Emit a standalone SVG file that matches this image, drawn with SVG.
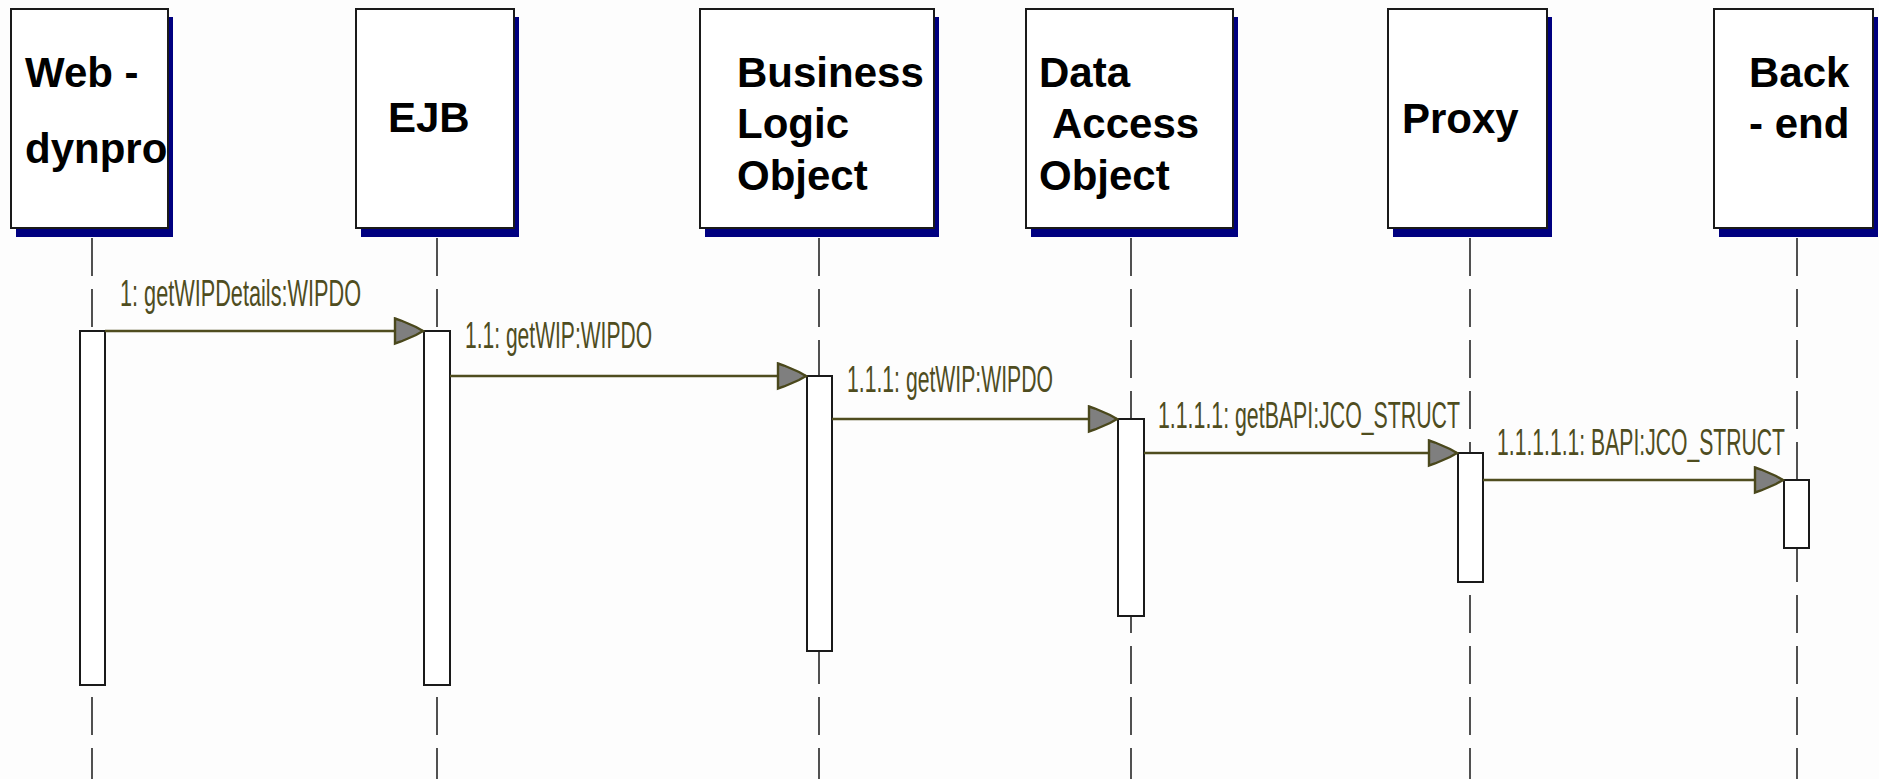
<svg xmlns="http://www.w3.org/2000/svg" width="1879" height="779" viewBox="0 0 1879 779">
<style>
.bg{fill:#fdfdfd}
.shadow{fill:#000080}
.box{fill:#ffffff;stroke:#1a1a1a;stroke-width:2}
.name{font-family:"Liberation Sans",Arial,sans-serif;font-weight:bold;font-size:42px;fill:#000000}
.life{stroke:#262626;stroke-width:1.6;stroke-dasharray:38 13;fill:none}
.act{fill:#ffffff;stroke:#1a1a1a;stroke-width:2}
.msg{stroke:#4f4d1f;stroke-width:2.6;fill:none}
.lbl{font-family:"Liberation Sans",Arial,sans-serif;font-size:37px;fill:#4f4d1f}
</style>
<defs>
<marker id="arr" markerUnits="userSpaceOnUse" markerWidth="34" markerHeight="30" refX="30" refY="14" orient="auto">
<polygon points="2,1.5 8,3.5 15,6.5 23,10 30,14 23,18 15,21.5 8,24.5 2,26.5" fill="#7f7f7f" stroke="#4a481c" stroke-width="2.4"/>
</marker>
</defs>
<rect class="bg" x="0" y="0" width="1879" height="779"/>

<g id="lifelines">
<line class="life" x1="92" y1="238" x2="92" y2="779"/>
<line class="life" x1="437" y1="238" x2="437" y2="779"/>
<line class="life" x1="819" y1="238" x2="819" y2="779"/>
<line class="life" x1="1131" y1="238" x2="1131" y2="779"/>
<line class="life" x1="1470" y1="238" x2="1470" y2="779"/>
<line class="life" x1="1797" y1="238" x2="1797" y2="779"/>
</g>

<g id="node-webdynpro">
<rect class="shadow" x="16" y="17" width="157" height="220"/>
<rect class="box" x="11" y="9" width="157" height="219"/>
<text class="name" x="25" y="87">Web -</text>
<text class="name" x="25" y="163">dynpro</text>
<rect class="act" x="80" y="331" width="25" height="354"/>
</g>

<g id="node-ejb">
<rect class="shadow" x="361" y="17" width="158" height="220"/>
<rect class="box" x="356" y="9" width="158" height="219"/>
<text class="name" x="388" y="132">EJB</text>
<rect class="act" x="424" y="331" width="26" height="354"/>
</g>

<g id="node-blo">
<rect class="shadow" x="705" y="17" width="234" height="220"/>
<rect class="box" x="700" y="9" width="234" height="219"/>
<text class="name" x="737" y="87">Business</text>
<text class="name" x="737" y="138">Logic</text>
<text class="name" x="737" y="190">Object</text>
<rect class="act" x="807" y="376" width="25" height="275"/>
</g>

<g id="node-dao">
<rect class="shadow" x="1031" y="17" width="207" height="220"/>
<rect class="box" x="1026" y="9" width="207" height="219"/>
<text class="name" x="1039" y="87">Data</text>
<text class="name" x="1052" y="138">Access</text>
<text class="name" x="1039" y="190">Object</text>
<rect class="act" x="1118" y="419" width="26" height="197"/>
</g>

<g id="node-proxy">
<rect class="shadow" x="1393" y="17" width="159" height="220"/>
<rect class="box" x="1388" y="9" width="159" height="219"/>
<text class="name" x="1402" y="133">Proxy</text>
<rect class="act" x="1458" y="453" width="25" height="129"/>
</g>

<g id="node-backend">
<rect class="shadow" x="1719" y="17" width="159" height="220"/>
<rect class="box" x="1714" y="9" width="159" height="219"/>
<text class="name" x="1749" y="87">Back</text>
<text class="name" x="1749" y="138">- end</text>
<rect class="act" x="1784" y="480" width="25" height="68"/>
</g>

<g id="connectors">
<line class="msg" x1="105" y1="331" x2="423" y2="331" marker-end="url(#arr)"/>
<text class="lbl" x="120" y="306" textLength="241" lengthAdjust="spacingAndGlyphs">1: getWIPDetails:WIPDO</text>
<line class="msg" x1="450" y1="376" x2="806" y2="376" marker-end="url(#arr)"/>
<text class="lbl" x="465" y="348" textLength="187" lengthAdjust="spacingAndGlyphs">1.1: getWIP:WIPDO</text>
<line class="msg" x1="832" y1="419" x2="1117" y2="419" marker-end="url(#arr)"/>
<text class="lbl" x="847" y="392" textLength="206" lengthAdjust="spacingAndGlyphs">1.1.1: getWIP:WIPDO</text>
<line class="msg" x1="1144" y1="453" x2="1457" y2="453" marker-end="url(#arr)"/>
<text class="lbl" x="1158" y="428" textLength="302" lengthAdjust="spacingAndGlyphs">1.1.1.1: getBAPI:JCO_STRUCT</text>
<line class="msg" x1="1483" y1="480" x2="1783" y2="480" marker-end="url(#arr)"/>
<text class="lbl" x="1497" y="455" textLength="288" lengthAdjust="spacingAndGlyphs">1.1.1.1.1: BAPI:JCO_STRUCT</text>
</g>
</svg>
